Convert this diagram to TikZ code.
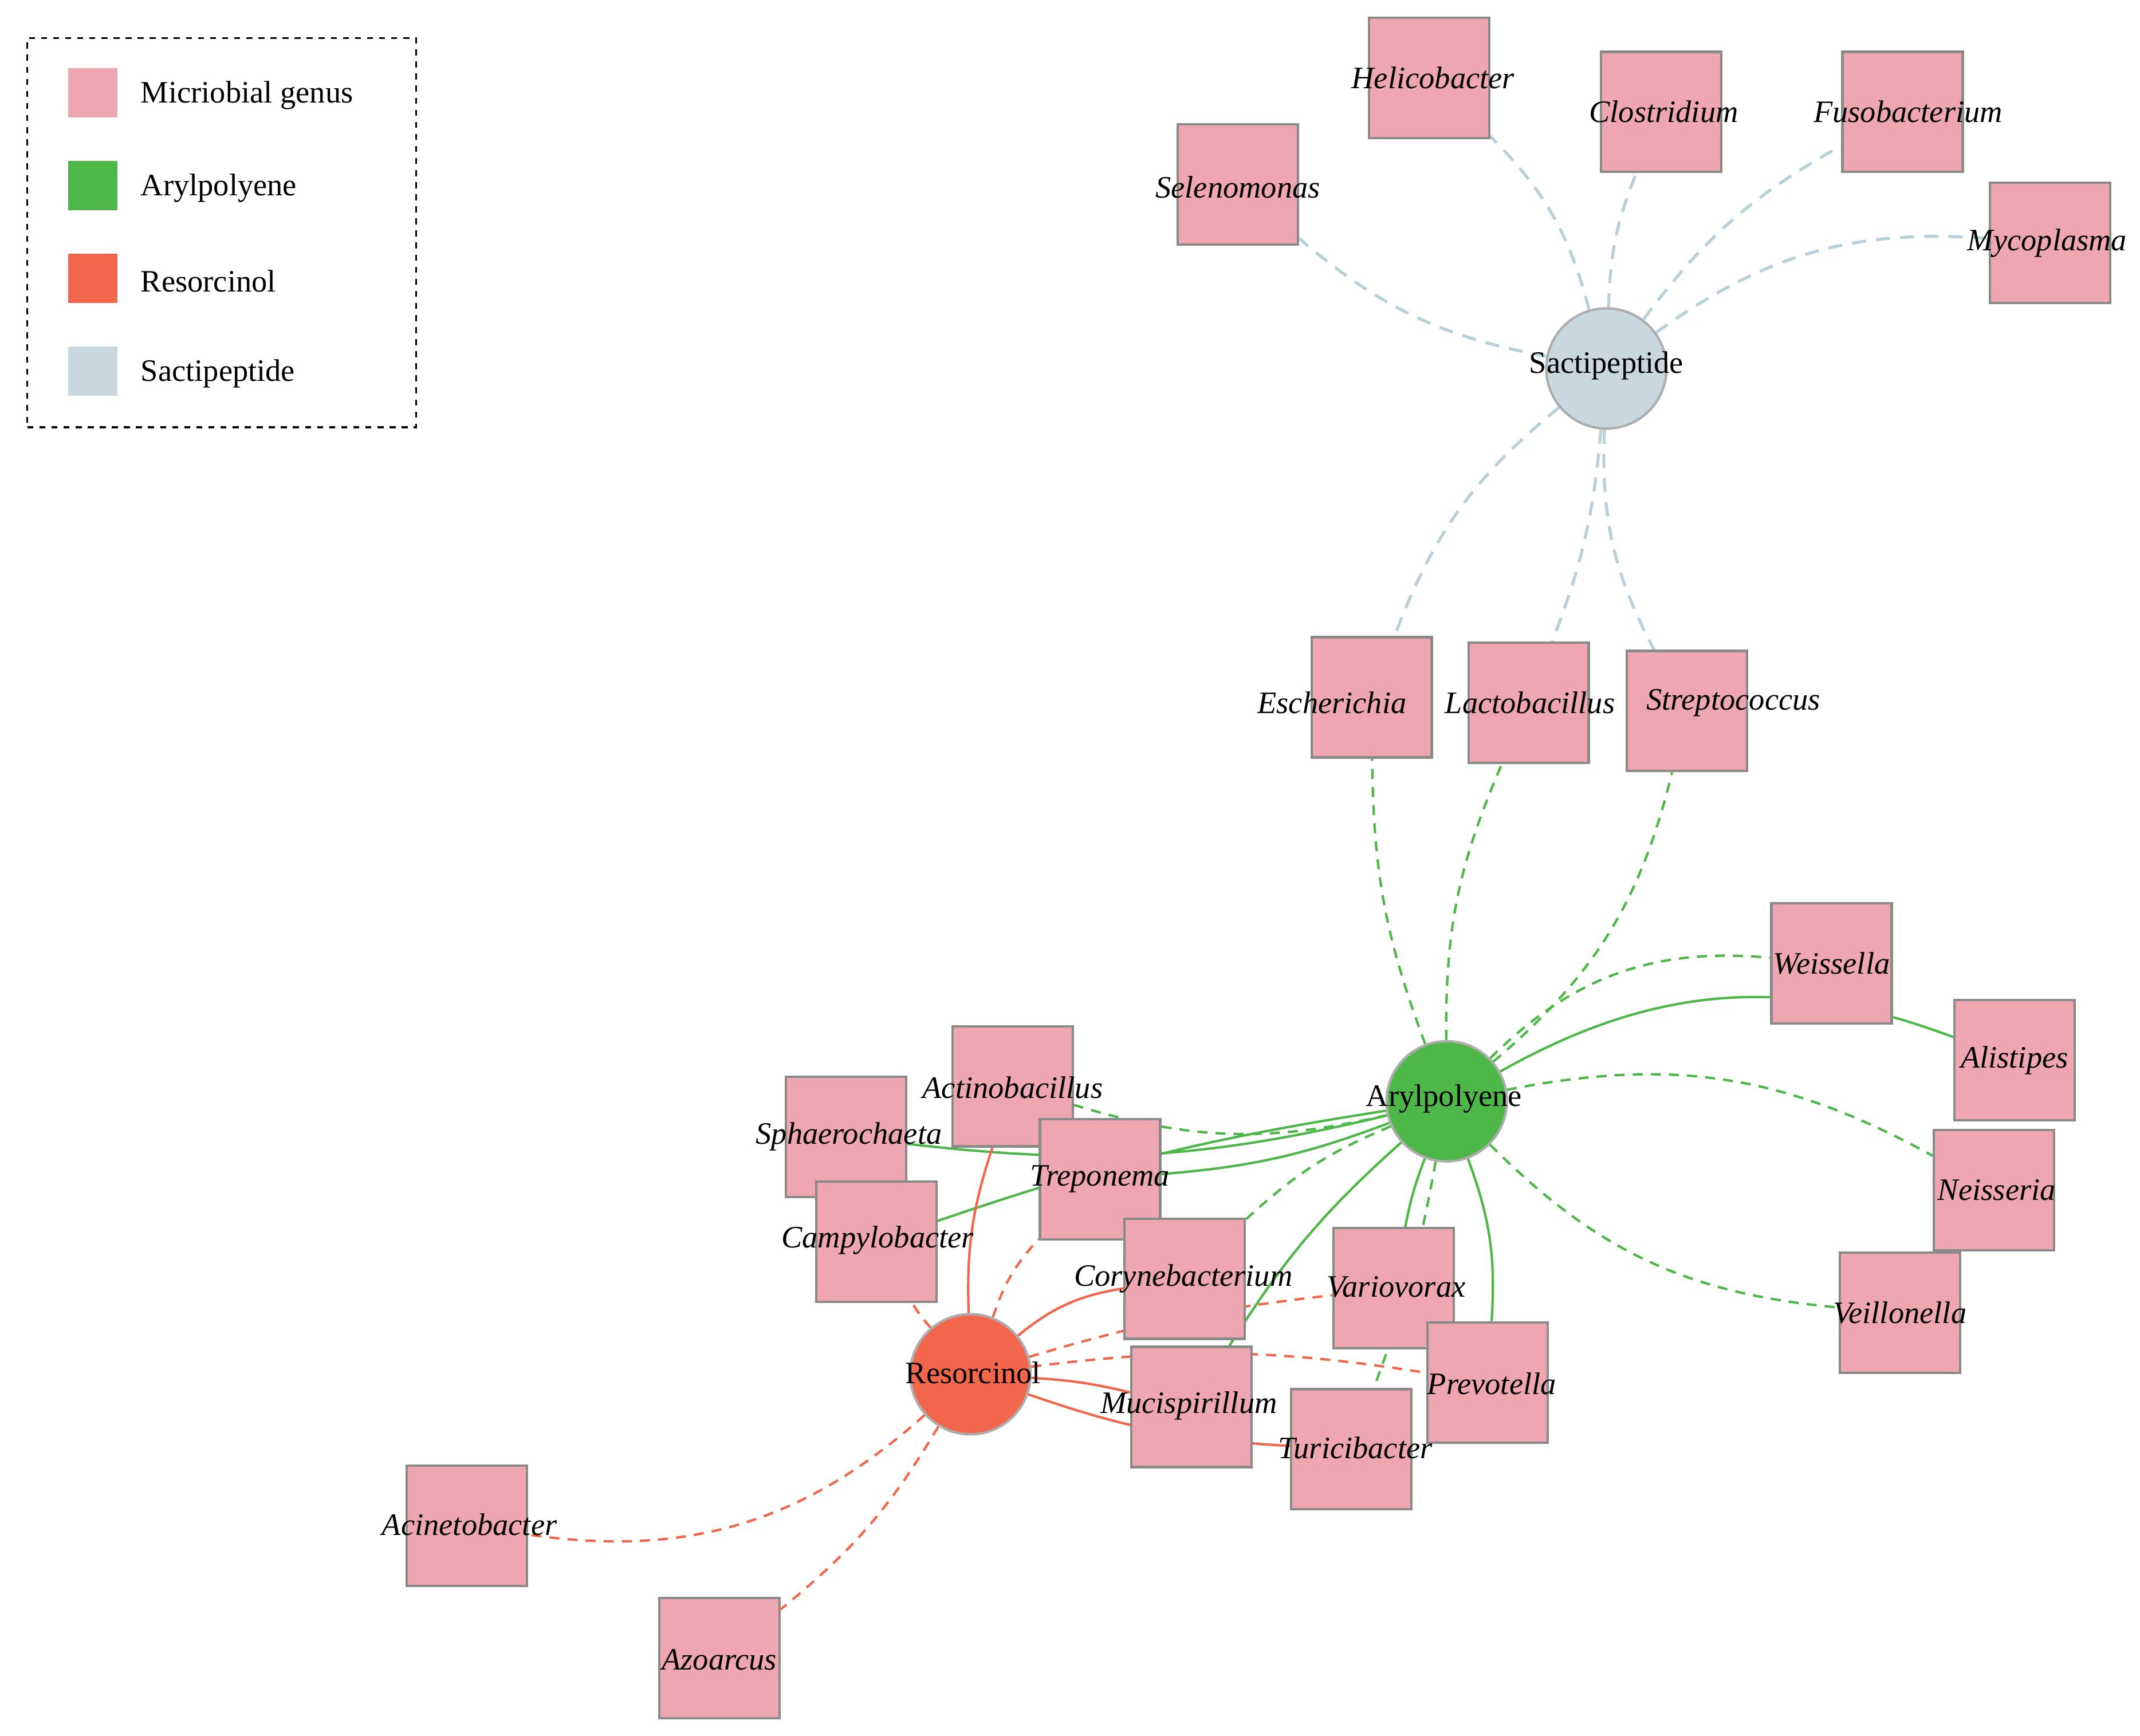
\documentclass[tikz,border=0pt]{standalone}
\usepackage{fontspec}
\setmainfont{Liberation Serif}
\usetikzlibrary{backgrounds}
\definecolor{pinkc}{HTML}{EEA6B0}
\definecolor{greenc}{HTML}{4DB848}
\definecolor{redc}{HTML}{F2674B}
\definecolor{bluec}{HTML}{C9D8DE}
\definecolor{bluee}{HTML}{B8D0D8}
\definecolor{bordc}{HTML}{8A8A8A}
\begin{document}
\begin{tikzpicture}[x=0.02383cm,y=-0.02383cm,
  gen/.style={draw=bordc,line width=1.2pt,fill=pinkc,minimum size=2.1cm,inner sep=0pt},
  hub/.style={circle,draw=bordc!70,line width=1.2pt,minimum size=2.1cm,inner sep=0pt},
  gl/.style={inner sep=0pt,font=\fontsize{15.5}{18}\selectfont\itshape},
  hl/.style={inner sep=0pt,font=\fontsize{15.5}{18}\selectfont},
  sw/.style={minimum size=0.86cm,inner sep=0pt},
  lt/.style={anchor=west,font=\fontsize{15.5}{18}\selectfont},
  se/.style={bluee,line width=1.5pt,dash pattern=on 7pt off 5pt},
  ge/.style={greenc,line width=1.2pt,dash pattern=on 5pt off 4pt},
  gs/.style={greenc,line width=1.2pt},
  re/.style={redc,line width=1.2pt,dash pattern=on 5pt off 4pt},
  rs/.style={redc,line width=1.2pt}]
\useasboundingbox (0,0) rectangle (1568,1272);
\node[draw,dashed,line width=1pt,minimum width=285*0.02383cm,minimum height=285*0.02383cm,inner sep=0pt] (leg) at (162.5,170.5) {};
\node[sw,fill=pinkc] (s1) at (68,68) {}; \node[lt] (l1) at (98,70) {Micriobial genus};
\node[sw,fill=greenc] (s2) at (68,136) {}; \node[lt] (l2) at (98,138) {Arylpolyene};
\node[sw,fill=redc] (s3) at (68,204) {}; \node[lt] (l3) at (98,206) {Resorcinol};
\node[sw,fill=bluec] (s4) at (68,272) {}; \node[lt] (l4) at (98,274) {Sactipeptide};

\node[hub,fill=bluec] (sac) at (1177,270) {};
\node[hub,fill=greenc] (ary) at (1060,807) {};
\node[hub,fill=redc] (res) at (711,1007) {};

\node[gen] (sel) at (907,135) {};
\node[gen] (hel) at (1047,57) {};
\node[gen] (clo) at (1217,82) {};
\node[gen] (fus) at (1394,82) {};
\node[gen] (myc) at (1502,178) {};
\node[gen] (esc) at (1005,511) {};
\node[gen] (lac) at (1120,515) {};
\node[gen] (str) at (1236,521) {};
\node[gen] (wei) at (1342,706) {};
\node[gen] (ali) at (1476,777) {};
\node[gen] (nei) at (1461,872) {};
\node[gen] (vei) at (1392,962) {};
\node[gen] (sph) at (620,833) {};
\node[gen] (act) at (742,796) {};
\node[gen] (cam) at (642,910) {};
\node[gen] (tre) at (806,864) {};
\node[gen] (cor) at (868,937) {};
\node[gen] (var) at (1021,944) {};
\node[gen] (pre) at (1090,1013) {};
\node[gen] (muc) at (873,1031) {};
\node[gen] (tur) at (990,1062) {};
\node[gen] (aci) at (342,1118) {};
\node[gen] (azo) at (527,1215) {};

\node[hl] (tsac) at (1177,268) {Sactipeptide};
\node[hl] (tary) at (1058,805) {Arylpolyene};
\node[hl] (tres) at (713,1006) {Resorcinol};
\node[gl] (tsel) at (907,137) {Selenomonas};
\node[gl] (thel) at (1050,57) {Helicobacter};
\node[gl] (tclo) at (1219,82) {Clostridium};
\node[gl] (tfus) at (1398,82) {Fusobacterium};
\node[gl] (tmyc) at (1500,178) {Mycoplasma};
\node[gl] (tesc) at (976,515) {Escherichia};
\node[gl] (tlac) at (1121,515) {Lactobacillus};
\node[gl] (tstr) at (1270,515) {Streptococcus};
\node[gl] (twei) at (1342,706) {Weissella};
\node[gl] (tali) at (1476,777) {Alistipes};
\node[gl] (tnei) at (1463,872) {Neisseria};
\node[gl] (tvei) at (1392,962) {Veillonella};
\node[gl] (tsph) at (622,833) {Sphaerochaeta};
\node[gl] (tact) at (742,797) {Actinobacillus};
\node[gl] (ttre) at (806,864) {Treponema};
\node[gl] (tcam) at (643,909) {Campylobacter};
\node[gl] (tcor) at (867,937) {Corynebacterium};
\node[gl] (tvar) at (1023,943) {Variovorax};
\node[gl] (tpre) at (1093,1014) {Prevotella};
\node[gl] (tmuc) at (871,1030) {Mucispirillum};
\node[gl] (ttur) at (993,1061) {Turicibacter};
\node[gl] (taci) at (344,1117) {Acinetobacter};
\node[gl] (tazo) at (527,1216) {Azoarcus};

\begin{scope}[on background layer]
\draw[se] (sac) to[bend left=15] (sel);
\draw[se] (sac) to[bend right=15] (hel);
\draw[se] (sac) to[bend left=10] (clo);
\draw[se] (sac) to[bend left=12] (fus);
\draw[se] (sac) to[bend left=20] (myc);
\draw[se] (sac) to[bend right=15] (esc);
\draw[se] (sac) to[bend left=8] (lac);
\draw[se] (sac) to[bend right=15] (str);

\draw[ge] (ary) to[bend left=10] (esc);
\draw[ge] (ary) to[bend left=12] (lac);
\draw[ge] (ary) to[bend right=18] (str);
\draw[ge] (ary) to[bend left=25] (wei);
\draw[gs] (ary) to[bend left=25] (ali);
\draw[ge] (ary) to[bend left=20] (nei);
\draw[ge] (ary) to[bend right=20] (vei);
\draw[ge] (ary) to[bend left=15] (act);
\draw[gs] (ary) to[bend left=10] (sph);
\draw[gs] (ary) to[bend left=8] (tre);
\draw[gs] (ary) to[bend right=5] (cam);
\draw[ge] (ary) to[bend right=10] (cor);
\draw[gs] (ary) to[bend right=5] (var);
\draw[gs] (ary) to[bend left=12] (pre);
\draw[gs] (ary) to[bend right=8] (muc);
\draw[ge] (ary) to[bend left=5] (tur);

\draw[rs] (res) to[bend left=10] (act);
\draw[re] (res) to[bend left=5] (cam);
\draw[re] (res) to[bend left=12] (tre);
\draw[rs] (res) to[bend left=15] (cor);
\draw[re] (res) to[bend left=5] (var);
\draw[re] (res) to[bend left=8] (pre);
\draw[rs] (res) to[bend left=5] (muc);
\draw[rs] (res) to[bend right=8] (tur);
\draw[re] (res) to[bend left=25] (aci);
\draw[re] (res) to[bend left=10] (azo);
\end{scope}
\end{tikzpicture}
\end{document}
